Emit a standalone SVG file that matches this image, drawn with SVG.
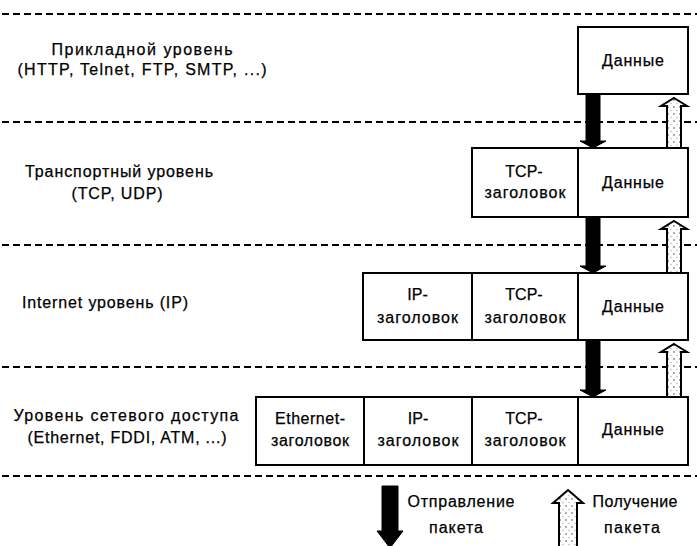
<svg xmlns="http://www.w3.org/2000/svg" width="697" height="546" viewBox="0 0 697 546">
<defs>
<style>
.sep{stroke:#000;stroke-width:2;stroke-dasharray:7 4;fill:none}
.box{fill:#fff;stroke:#000;stroke-width:2}
.t{font-family:"Liberation Sans",Arial,sans-serif;font-size:16px;fill:#000;stroke:#000;stroke-width:0.25;text-anchor:middle}
.send{fill:#000;stroke:#000;stroke-width:1}
.recv{fill:url(#dots);stroke:#000;stroke-width:2}
</style>
<pattern id="dots" width="6" height="7" patternUnits="userSpaceOnUse">
<rect width="6" height="7" fill="#fff"/>
<circle cx="2" cy="2" r="0.9" fill="#888"/>
<circle cx="5" cy="5.5" r="0.7" fill="#aaa"/>
</pattern>
</defs>
<rect width="697" height="546" fill="#fff"/>
<g id="separators">
<line class="sep" x1="2" y1="14" x2="697" y2="14"/>
<line class="sep" x1="2" y1="122" x2="697" y2="122"/>
<line class="sep" x1="2" y1="245" x2="697" y2="245"/>
<line class="sep" x1="2" y1="367" x2="697" y2="367"/>
<line class="sep" x1="2" y1="476" x2="697" y2="476"/>
</g>
<g id="layer-labels">
<text class="t" x="142" y="55" textLength="181">Прикладной уровень</text>
<text class="t" x="142" y="75" textLength="249">(HTTP, Telnet, FTP, SMTP, ...)</text>
<text class="t" x="119" y="177" textLength="188">Транспортный уровень</text>
<text class="t" x="117" y="199" textLength="91">(TCP, UDP)</text>
<text class="t" x="105" y="308" textLength="166">Internet уровень (IP)</text>
<text class="t" x="126" y="421" textLength="225">Уровень сетевого доступа</text>
<text class="t" x="127" y="443" textLength="199">(Ethernet, FDDI, ATM, ...)</text>
</g>
<g id="app-data">
<rect class="box" x="578" y="27" width="110" height="67"/>
<text class="t" x="633" y="66" textLength="62">Данные</text>
</g>
<g id="tr-tcp">
<rect class="box" x="472" y="148" width="106" height="69"/>
<text class="t" x="524" y="177">TCP-</text>
<text class="t" x="525" y="198" textLength="81">заголовок</text>
</g>
<g id="tr-data">
<rect class="box" x="578" y="148" width="110" height="69"/>
<text class="t" x="633" y="188" textLength="62">Данные</text>
</g>
<g id="in-ip">
<rect class="box" x="363" y="273" width="109" height="67"/>
<text class="t" x="417.5" y="300">IP-</text>
<text class="t" x="417.5" y="323" textLength="81">заголовок</text>
</g>
<g id="in-tcp">
<rect class="box" x="472" y="273" width="106" height="67"/>
<text class="t" x="524" y="300">TCP-</text>
<text class="t" x="525" y="323" textLength="81">заголовок</text>
</g>
<g id="in-data">
<rect class="box" x="578" y="273" width="110" height="67"/>
<text class="t" x="633" y="312" textLength="62">Данные</text>
</g>
<g id="na-eth">
<rect class="box" x="256" y="397" width="108" height="68"/>
<text class="t" x="310" y="424" textLength="70">Ethernet-</text>
<text class="t" x="310" y="446" textLength="78">заголовок</text>
</g>
<g id="na-ip">
<rect class="box" x="364" y="397" width="108" height="68"/>
<text class="t" x="418" y="424">IP-</text>
<text class="t" x="418" y="446" textLength="81">заголовок</text>
</g>
<g id="na-tcp">
<rect class="box" x="472" y="397" width="106" height="68"/>
<text class="t" x="524" y="424">TCP-</text>
<text class="t" x="525" y="446" textLength="81">заголовок</text>
</g>
<g id="na-data">
<rect class="box" x="578" y="397" width="110" height="68"/>
<text class="t" x="633" y="435" textLength="62">Данные</text>
</g>
<g id="connectors">
<path class="send" d="M586,95 L600,95 L600,141 L606,141 L593,148 L580,141 L586,141 Z"/>
<path class="recv" d="M674,98 L687,106 L681,106 L681,148 L667,148 L667,106 L661,106 Z"/>
<path class="send" d="M586,218 L600,218 L600,266 L606,266 L593,273 L580,266 L586,266 Z"/>
<path class="recv" d="M674,221 L687,229 L681,229 L681,273 L667,273 L667,229 L661,229 Z"/>
<path class="send" d="M586,341 L600,341 L600,390 L606,390 L593,397 L580,390 L586,390 Z"/>
<path class="recv" d="M674,344 L687,352 L681,352 L681,397 L667,397 L667,352 L661,352 Z"/>
</g>
<g id="legend">
<path class="send" d="M382,486 L398,486 L398,531 L403,531 L390,548 L377,531 L382,531 Z"/>
<text class="t" x="461" y="507" textLength="107">Отправление</text>
<text class="t" x="456" y="533" textLength="54">пакета</text>
<path class="recv" d="M568,490 L583,503 L577,503 L577,548 L559,548 L559,503 L553,503 Z"/>
<text class="t" x="635" y="507" textLength="85">Получение</text>
<text class="t" x="632" y="533" textLength="56">пакета</text>
</g>
</svg>
